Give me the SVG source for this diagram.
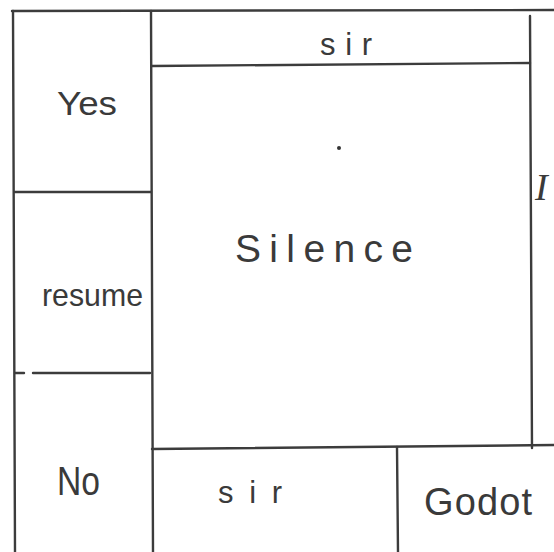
<svg xmlns="http://www.w3.org/2000/svg" width="554" height="552" viewBox="0 0 554 552">
<style>
.ln{stroke:#3c3c3c;stroke-width:2.4;fill:none;stroke-linecap:round}
.t{font-family:"Liberation Sans","DejaVu Sans",sans-serif;fill:#3a3a3a}
</style>
<rect width="554" height="552" fill="#ffffff"/>
<g id="grid">
<line class="ln" x1="12" y1="11" x2="554" y2="10"/>
<line class="ln" x1="13" y1="11" x2="15" y2="552"/>
<line class="ln" x1="151" y1="11" x2="153" y2="552"/>
<line class="ln" x1="15" y1="192" x2="151" y2="192"/>
<line class="ln" x1="15" y1="373" x2="24" y2="373"/>
<line class="ln" x1="33" y1="373" x2="150" y2="373"/>
<line class="ln" x1="152" y1="66" x2="530" y2="63"/>
<line class="ln" x1="530" y1="16" x2="532" y2="448"/>
<line class="ln" x1="152" y1="449" x2="554" y2="445"/>
<line class="ln" x1="397" y1="447" x2="398" y2="552"/>
</g>
<g id="yes"><text class="t" x="57" y="115" font-size="33" textLength="60" lengthAdjust="spacingAndGlyphs">Yes</text></g>
<g id="resume"><text class="t" x="42" y="306" font-size="32" textLength="101" lengthAdjust="spacingAndGlyphs">resume</text></g>
<g id="no"><text class="t" x="57" y="495" font-size="40" textLength="43" lengthAdjust="spacingAndGlyphs">No</text></g>
<g id="sir-top"><text class="t" x="320" y="55" font-size="31" textLength="52" lengthAdjust="spacing">sir</text></g>
<g id="silence">
<circle cx="339" cy="148" r="2" fill="#333"/>
<text class="t" x="235" y="262" font-size="39" textLength="178" lengthAdjust="spacing">Silence</text>
</g>
<g id="i"><text x="535" y="200" font-size="38" font-style="italic" font-family="'Liberation Serif','DejaVu Serif',serif" fill="#3a3a3a">I</text></g>
<g id="sir-bottom"><text class="t" x="218" y="503" font-size="31" textLength="64" lengthAdjust="spacing">sir</text></g>
<g id="godot"><text class="t" x="424" y="515" font-size="38" textLength="108" lengthAdjust="spacing">Godot</text></g>
</svg>
